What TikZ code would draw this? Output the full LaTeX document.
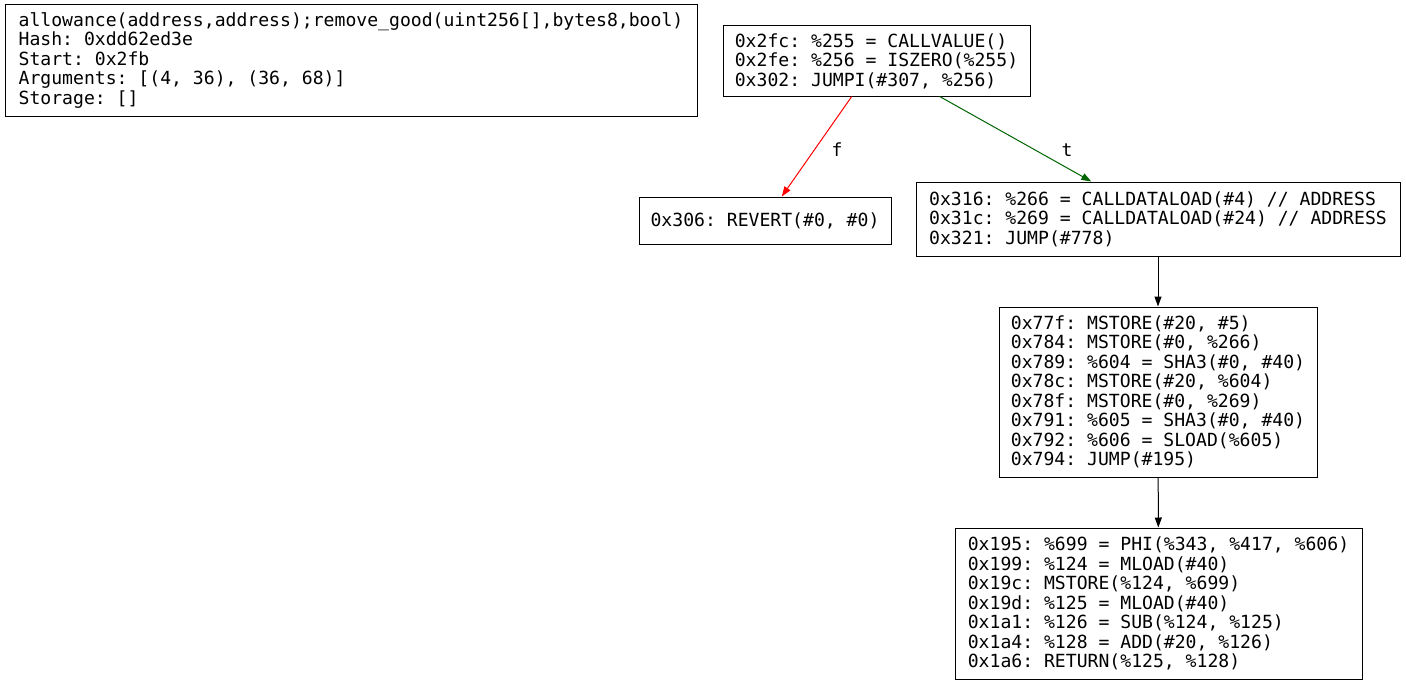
\documentclass[tikz,border=0pt]{standalone}
\usepackage{fontspec}
\usetikzlibrary{arrows.meta}
\newfontfamily\codefont{DejaVu Sans Mono}
\newcommand\codesize{\codefont\fontsize{18.1}{19.5}\selectfont}
% one character cell per space, no stretch or shrink
\newcommand\codespaces{\spaceskip=0.602em\relax\xspaceskip=0.602em\relax}
\definecolor{edgegreen}{HTML}{006400}
\begin{document}
\begin{tikzpicture}[x=1pt,y=-1pt,
  block/.style={draw=black, line width=1pt, rectangle, inner xsep=4pt, inner ysep=0pt,
    align=left, font=\codesize, execute at begin node=\codespaces},
  flow/.style={line width=1pt, -{Triangle[length=10pt,width=7pt]}},
  tag/.style={font=\codesize, inner sep=0pt}]
\useasboundingbox (0,0) rectangle (1406,685);

\node[block, minimum width=692pt, minimum height=111pt] (info) at (351,60.5)
  {allowance(address,address);remove\_good(uint256[],bytes8,bool)\\
   Hash: 0xdd62ed3e\\
   Start: 0x2fb\\
   Arguments: [(4, 36), (36, 68)]\\
   Storage: []};

\node[block, minimum width=307pt, minimum height=70pt] (entry) at (876.5,61)
  {0x2fc: \%255 = CALLVALUE()\\
   0x2fe: \%256 = ISZERO(\%255)\\
   0x302: JUMPI(\#307, \%256)};

\node[block, minimum width=252pt, minimum height=47pt] (revert) at (765,220.5)
  {0x306: REVERT(\#0, \#0)};

\node[block, minimum width=484pt, minimum height=74pt] (load) at (1158,219)
  {0x316: \%266 = CALLDATALOAD(\#4) // ADDRESS\\
   0x31c: \%269 = CALLDATALOAD(\#24) // ADDRESS\\
   0x321: JUMP(\#778)};

\node[block, minimum width=318pt, minimum height=170pt] (hash) at (1158,392)
  {0x77f: MSTORE(\#20, \#5)\\
   0x784: MSTORE(\#0, \%266)\\
   0x789: \%604 = SHA3(\#0, \#40)\\
   0x78c: MSTORE(\#20, \%604)\\
   0x78f: MSTORE(\#0, \%269)\\
   0x791: \%605 = SHA3(\#0, \#40)\\
   0x792: \%606 = SLOAD(\%605)\\
   0x794: JUMP(\#195)};

\node[block, minimum width=407pt, minimum height=151pt] (ret) at (1158.5,603.5)
  {0x195: \%699 = PHI(\%343, \%417, \%606)\\
   0x199: \%124 = MLOAD(\#40)\\
   0x19c: MSTORE(\%124, \%699)\\
   0x19d: \%125 = MLOAD(\#40)\\
   0x1a1: \%126 = SUB(\%124, \%125)\\
   0x1a4: \%128 = ADD(\#20, \%126)\\
   0x1a6: RETURN(\%125, \%128)};

\draw[flow, red] (entry) -- (revert);
\node[tag] (flabel) at (837,150) {f};
\draw[flow, edgegreen] (entry) -- (load);
\node[tag] (tlabel) at (1067,150) {t};
\draw[flow] (load) -- (hash);
\draw[flow] (hash) -- (ret);
\end{tikzpicture}
\end{document}
